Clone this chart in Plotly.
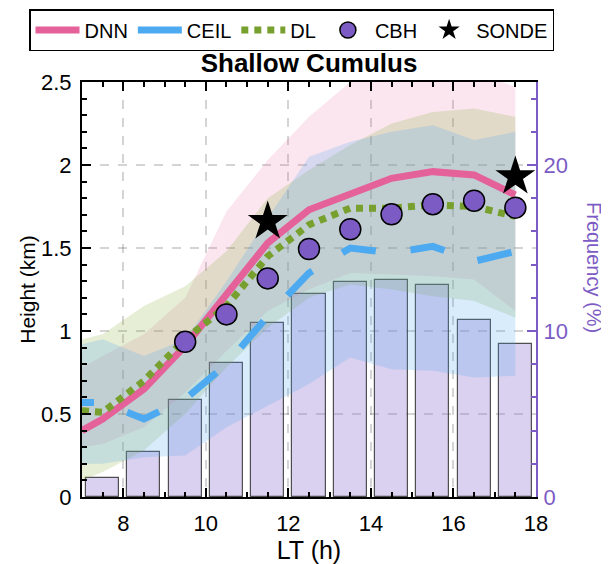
import plotly.graph_objects as go

# ---- data ----
hours = [7.0, 7.5, 8.5, 9.5, 10.5, 11.5, 12.5, 13.5, 14.5, 15.5, 16.5, 17.5]
dnn = [0.40, 0.47, 0.65, 0.91, 1.22, 1.53, 1.73, 1.83, 1.92, 1.96, 1.94, 1.82]
dnn_hi = [0.78, 0.85, 0.98, 1.20, 1.72, 2.03, 2.29, 2.50, 2.58, 2.60, 2.56, 2.47]
dnn_lo = [0.30, 0.32, 0.42, 0.63, 0.88, 1.12, 1.25, 1.35, 1.34, 1.33, 1.31, 1.12]
ceil = [0.57, 0.57, 0.47, 0.59, 0.80, 1.09, 1.35, 1.50, 1.47, 1.51, 1.42, 1.48]
ceil_hi = [0.92, 0.95, 0.85, 0.95, 1.30, 1.68, 2.05, 2.14, 2.20, 2.24, 2.15, 2.20]
ceil_lo = [0.20, 0.20, 0.24, 0.25, 0.42, 0.55, 0.68, 0.84, 0.77, 0.76, 0.72, 0.73]
dl = [0.52, 0.51, 0.70, 0.95, 1.15, 1.45, 1.64, 1.74, 1.74, 1.76, 1.75, 1.69]
dl_hi = [0.95, 0.98, 1.15, 1.27, 1.48, 1.80, 1.97, 2.12, 2.25, 2.32, 2.34, 2.29]
dl_lo = [0.10, 0.15, 0.28, 0.50, 0.78, 1.02, 1.20, 1.28, 1.25, 1.21, 1.18, 1.08]

cbh_hours = [9.5, 10.5, 11.5, 12.5, 13.5, 14.5, 15.5, 16.5, 17.5]
cbh = [0.935, 1.10, 1.317, 1.494, 1.613, 1.703, 1.764, 1.785, 1.743]

sonde_hours = [11.5, 17.5]
sonde = [1.66, 1.93]

bar_hours = [7.5, 8.5, 9.5, 10.5, 11.5, 12.5, 13.5, 14.5, 15.5, 16.5, 17.5]
freq = [1.15, 2.74, 5.83, 8.1, 10.48, 12.2, 12.95, 13.05, 12.77, 10.68, 9.23]

x_ticks = [8, 10, 12, 14, 16, 18]

# ---- styles ----
PINK = "#e4619a"
BLUE = "#4daaf0"
GREEN = "#77a02e"
PURPLE = "#7c5cc4"
FONT = "Liberation Sans, Arial, sans-serif"
CEIL_DASH = "12px,35px," + ",".join(["35px,35px"] * 10)

# figure is 601x556 because the page body adds an 8px margin
W, H = 601, 556
L, R, T, B = 74, 73, 74, 67
PW, PH = W - L - R, H - T - B

fig = go.Figure()

# frequency bars (primary y, drawn underneath)
fig.add_trace(go.Bar(
    x=bar_hours, y=freq, width=0.8, yaxis="y", showlegend=False,
    marker=dict(color="rgba(150,120,210,0.35)",
                line=dict(color="rgba(50,50,50,0.85)", width=1.2)),
    hoverinfo="skip"))

def band(lo, hi, color):
    fig.add_trace(go.Scatter(x=hours, y=lo, yaxis="y2", mode="lines",
                             line=dict(width=0), showlegend=False, hoverinfo="skip"))
    fig.add_trace(go.Scatter(x=hours, y=hi, yaxis="y2", mode="lines",
                             line=dict(width=0), fill="tonexty", fillcolor=color,
                             showlegend=False, hoverinfo="skip"))

band(dnn_lo, dnn_hi, "rgba(230,90,150,0.15)")
band(dl_lo, dl_hi, "rgba(130,170,50,0.20)")
band(ceil_lo, ceil_hi, "rgba(80,170,240,0.22)")

fig.add_trace(go.Scatter(x=hours, y=dnn, yaxis="y2", mode="lines", name="DNN",
                         line=dict(color=PINK, width=7)))
fig.add_trace(go.Scatter(x=hours, y=ceil, yaxis="y2", mode="lines", name="CEIL",
                         showlegend=False,
                         line=dict(color=BLUE, width=7, dash=CEIL_DASH)))
# legend sample for CEIL (solid stroke as in the reference legend)
fig.add_trace(go.Scatter(x=[None], y=[None], yaxis="y2", mode="lines", name="CEIL",
                         line=dict(color=BLUE, width=7)))
fig.add_trace(go.Scatter(x=hours, y=dl, yaxis="y2", mode="lines", name="DL",
                         line=dict(color=GREEN, width=7, dash="7px,6px")))
fig.add_trace(go.Scatter(x=cbh_hours, y=cbh, yaxis="y2", mode="markers", name="CBH",
                         marker=dict(color=PURPLE, size=21,
                                     line=dict(color="black", width=1.5))))
fig.add_trace(go.Scatter(x=sonde_hours, y=sonde, yaxis="y2", mode="markers", name="SONDE",
                         marker=dict(color="black", symbol="star", size=30,
                                     line=dict(width=0))))

fig.update_layout(
    width=W, height=H,
    margin=dict(l=L, r=R, t=T, b=B, autoexpand=False),
    paper_bgcolor="white", plot_bgcolor="white",
    font=dict(family=FONT, size=21, color="black"),
    bargap=0,
    title=dict(text="<b>Shallow Cumulus</b>", font=dict(size=26, family=FONT),
               x=(L + PW / 2) / W, xanchor="center", y=1 - 55 / H, yanchor="middle",
               yref="container"),
    showlegend=True,
    legend=dict(orientation="h", x=(21 - L) / PW, xanchor="left",
                y=(T + PH - 1) / PH, yanchor="top",
                traceorder="normal",
                bordercolor="black", borderwidth=1.5, bgcolor="white",
                font=dict(size=20, family=FONT), itemwidth=44),
    xaxis=dict(range=[7, 18], tickvals=x_ticks, showline=True, linecolor="black",
               linewidth=2, mirror="ticks", ticks="inside", ticklen=9, tickwidth=2,
               tickcolor="black", automargin=False,
               minor=dict(dtick=0.5, tick0=7, ticks="inside", ticklen=5, tickwidth=1.5,
                          tickcolor="black", showgrid=False),
               showgrid=True, gridcolor="rgba(0,0,0,0.17)", griddash="dash", gridwidth=1.5,
               zeroline=False, tickfont=dict(size=22), ticklabelstandoff=6,
               title=dict(text="LT (h)", font=dict(size=25), standoff=4)),
    yaxis=dict(range=[0, 25], side="right", showline=True, linecolor=PURPLE,
               linewidth=2, ticks="inside", ticklen=9, tickwidth=2, tickcolor=PURPLE,
               tickvals=[0, 10, 20], ticklabelstandoff=1, automargin=False,
               minor=dict(dtick=2, ticks="inside", ticklen=5, tickwidth=1.5,
                          tickcolor=PURPLE, showgrid=False),
               tickfont=dict(size=22, color=PURPLE), showgrid=False, zeroline=False),
    yaxis2=dict(range=[0, 2.5], overlaying="y", side="left", showline=True,
                linecolor="black", linewidth=2, ticks="inside", ticklen=9, tickwidth=2,
                tickcolor="black", dtick=0.5, tick0=0, ticklabelstandoff=4,
                automargin=False,
                minor=dict(dtick=0.1, ticks="inside", ticklen=5, tickwidth=1.5,
                           tickcolor="black", showgrid=False),
                showgrid=True, gridcolor="rgba(0,0,0,0.17)", griddash="dash",
                gridwidth=1.5, zeroline=False, tickfont=dict(size=22),
                title=dict(text="Height (km)", font=dict(size=21), standoff=0)),
    annotations=[dict(text="Frequency (%)", textangle=90, xref="paper", yref="paper",
                      x=(586 - L) / PW, y=(T + PH - 259) / PH, showarrow=False,
                      xanchor="center", yanchor="middle",
                      font=dict(size=20, color=PURPLE, family=FONT))],
)

fig.write_html("out.html")
